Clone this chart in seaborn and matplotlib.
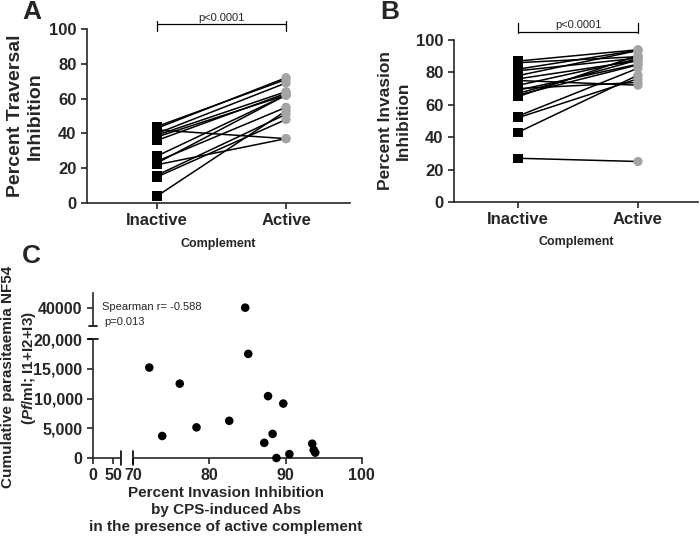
import numpy as np
import pandas as pd
import matplotlib
matplotlib.use("Agg")
import matplotlib.pyplot as plt
import seaborn as sns

sns.set_style("ticks")
plt.rcParams['font.family'] = ['Liberation Sans', 'DejaVu Sans']
plt.rcParams['font.weight'] = 'bold'
plt.rcParams['mathtext.fontset'] = 'custom'
plt.rcParams['mathtext.it'] = 'Liberation Sans:italic:bold'
plt.rcParams['mathtext.rm'] = 'Liberation Sans:bold'

# ---------------- data ----------------
conditions = ["Inactive", "Active"]

# Panel A: percent traversal inhibition (paired per subject)
trav_inactive = [44, 43, 42, 40, 39, 38, 36, 27, 24, 23, 22, 16, 15, 4]
trav_active = [71, 72, 37, 69, 64, 62, 63, 62, 55, 62, 37, 51, 48, 53]

# Panel B: percent invasion inhibition (paired per subject)
inv_inactive = [87, 86, 82, 81, 78, 76, 75, 72, 70, 69, 67, 66, 65, 53, 52, 43, 27]
inv_active = [94, 89.7, 93.7, 88.8, 93.5, 87.2, 72.1, 88.3, 73.8, 85.1, 87.7, 84.7, 90.5, 82.6, 76.1, 78.3, 25]

# Panel C: invasion inhibition vs cumulative parasitaemia
c_inhibition = [72.1, 73.8, 76.1, 78.3, 82.6, 84.7, 85.1, 87.2, 87.7, 88.3, 88.8, 89.7, 90.5, 93.5, 93.7, 93.9]
c_parasitaemia = [15200, 3700, 12500, 5150, 6250, 40000, 17500, 2550, 10400, 4050, 0, 9150, 650, 2400, 1350, 900]

lower_yticks = [0, 5000, 10000, 15000, 20000]
lower_ylabels = ["0", "5,000", "10,000", "15,000", "20,000"]
upper_yticks = [40000]
upper_ylabels = ["40000"]
left_xticks = [0, 50]
right_xticks = [70, 80, 90, 100]

W, H = 700, 538
fig = plt.figure(figsize=(7.0, 5.38), dpi=100)


def box(x0, y0, x1, y1):
    # pixel box (top-left origin) -> figure fraction rect
    return [x0 / W, 1 - y1 / H, (x1 - x0) / W, (y1 - y0) / H]


LW = 1.2


def paired_panel(ax, inact, act, xlim, ylabel, ylabel_size, bracket, ptext_y, xlab_pad):
    n = len(inact)
    df = pd.DataFrame({
        "subject": list(range(n)) * 2,
        "pos": [0] * n + [1] * n,
        "cond": ["Inactive"] * n + ["Active"] * n,
        "value": list(inact) + list(act),
    })
    sns.lineplot(data=df, x="pos", y="value", units="subject", estimator=None,
                 color="black", linewidth=1.1, ax=ax, legend=False, zorder=2)
    sns.scatterplot(data=df, x="pos", y="value", hue="cond", style="cond",
                    markers={"Inactive": "s", "Active": "o"},
                    palette={"Inactive": "black", "Active": "#a4a4a4"},
                    s=44, edgecolor="none", linewidth=0,
                    ax=ax, legend=False, zorder=3, clip_on=False)
    ax.set_xlim(*xlim)
    ax.set_ylim(0, 100)
    ax.set_yticks([0, 20, 40, 60, 80, 100])
    ax.set_xticks([0, 1])
    ax.set_xticklabels(conditions)
    ax.tick_params(axis='y', labelsize=12, width=LW, length=4, direction='out')
    ax.tick_params(axis='x', labelsize=12, width=LW, length=4, direction='out')
    ax.set_xlabel("Complement", fontsize=9, fontweight='bold', labelpad=xlab_pad)
    ax.set_ylabel(ylabel, fontsize=ylabel_size, fontweight='bold', labelpad=4)
    sns.despine(ax=ax)
    for sp in ['left', 'bottom']:
        ax.spines[sp].set_linewidth(LW)
    hy, vlo, vhi = bracket
    ax.plot([0, 1], [hy, hy], color='black', lw=0.9, clip_on=False)
    ax.plot([0, 0], [vlo, vhi], color='black', lw=0.9, clip_on=False)
    ax.plot([1, 1], [vlo, vhi], color='black', lw=0.9, clip_on=False)
    ax.text(0.5, ptext_y, "p<0.0001", ha='center', va='bottom', fontsize=8,
            fontweight='normal')


# ---- Panel A ----
axA = fig.add_axes(box(87, 29, 350, 203))
paired_panel(axA, trav_inactive, trav_active, (-0.543, 1.496),
             "Percent Traversal\nInhibition", 14, (102.6, 98.8, 104.6), 103.2, 7)

# ---- Panel B ----
axB = fig.add_axes(box(454, 40, 698, 202))
paired_panel(axB, inv_inactive, inv_active, (-0.533, 1.5),
             "Percent Invasion\nInhibition", 12.5, (104.9, 104.2, 110.6), 106.0, 6)

# ---- Panel C (broken axes) ----
ax_ll = fig.add_axes(box(93, 339, 121, 458))
ax_lr = fig.add_axes(box(133.3, 339, 361.7, 458))
ax_ul = fig.add_axes(box(93, 293, 121, 326))
ax_ur = fig.add_axes(box(133.3, 293, 361.7, 326))

for ax in (ax_ll, ax_lr, ax_ul, ax_ur):
    ax.set_facecolor('none')
    for sp in ax.spines.values():
        sp.set_visible(False)
        sp.set_linewidth(LW)
    ax.tick_params(axis='both', labelsize=11.5, width=LW, length=4, direction='out')

dfc = pd.DataFrame({"inhib": c_inhibition, "para": c_parasitaemia})
lowdf = dfc[dfc.para <= 20000]
updf = dfc[dfc.para > 20000]

# lower-left
ax_ll.set_xlim(0, 70)
ax_ll.set_ylim(0, 20000)
ax_ll.spines['left'].set_visible(True)
ax_ll.spines['bottom'].set_visible(True)
ax_ll.set_xticks(left_xticks)
ax_ll.set_xticklabels([str(v) for v in left_xticks])
ax_ll.set_yticks(lower_yticks)
ax_ll.set_yticklabels(lower_ylabels)

# lower-right
sns.scatterplot(data=lowdf, x="inhib", y="para", ax=ax_lr, color='black', s=38,
                edgecolor='none', legend=False, clip_on=False, zorder=3)
ax_lr.set_xlim(70, 100)
ax_lr.set_ylim(0, 20000)
ax_lr.spines['bottom'].set_visible(True)
ax_lr.set_xticks(right_xticks)
ax_lr.set_xticklabels([str(v) for v in right_xticks])
ax_lr.set_yticks([])

# upper-left
ax_ul.set_xlim(0, 70)
ax_ul.set_ylim(35000, 44000)
ax_ul.spines['left'].set_visible(True)
ax_ul.set_xticks([])
ax_ul.set_yticks(upper_yticks)
ax_ul.set_yticklabels(upper_ylabels)

# upper-right
sns.scatterplot(data=updf, x="inhib", y="para", ax=ax_ur, color='black', s=38,
                edgecolor='none', legend=False, clip_on=False, zorder=3)
ax_ur.set_xlim(70, 100)
ax_ur.set_ylim(35000, 44000)
ax_ur.set_xticks([])
ax_ur.set_yticks([])

for ax in (ax_ll, ax_lr, ax_ul, ax_ur):
    ax.set_xlabel("")
    ax.set_ylabel("")

# break marks
ax_ll.plot([1, 1], [-0.06, 0.06], transform=ax_ll.transAxes, color='black', lw=LW, clip_on=False)
ax_lr.plot([0, 0], [-0.06, 0.06], transform=ax_lr.transAxes, color='black', lw=LW, clip_on=False)
ax_ll.plot([-0.18, 0.18], [1, 1], transform=ax_ll.transAxes, color='black', lw=LW, clip_on=False)
ax_ul.plot([-0.14, 0.14], [0, 0], transform=ax_ul.transAxes, color='black', lw=LW, clip_on=False)

fig.text(102 / W, 1 - 307 / H, "Spearman r= -0.588", fontsize=8, va='center', ha='left',
         fontweight='normal')
fig.text(104 / W, 1 - 322 / H, "p=0.013", fontsize=8, va='center', ha='left',
         fontweight='normal')

fig.text(8 / W, 1 - 377 / H, "Cumulative parasitaemia NF54", rotation=90,
         fontsize=11, fontweight='bold', ha='center', va='center')
fig.text(29 / W, 1 - 368 / H, r"($\mathit{Pf}$/ml; I1+I2+I3)", rotation=90,
         fontsize=11, fontweight='bold', ha='center', va='center')

for i, line in enumerate(["Percent Invasion Inhibition", "by CPS-induced Abs",
                          "in the presence of active complement"]):
    fig.text(226 / W, 1 - (493 + 17 * i) / H, line, fontsize=11, fontweight='bold',
             ha='center', va='center')

# panel letters
fig.text(22 / W, 1 - 12 / H, "A", fontsize=19, fontweight='bold', ha='left', va='center')
fig.text(380 / W, 1 - 12 / H, "B", fontsize=19, fontweight='bold', ha='left', va='center')
fig.text(22 / W, 1 - 256 / H, "C", fontsize=19, fontweight='bold', ha='left', va='center')

fig.savefig("out.png", dpi=100)
